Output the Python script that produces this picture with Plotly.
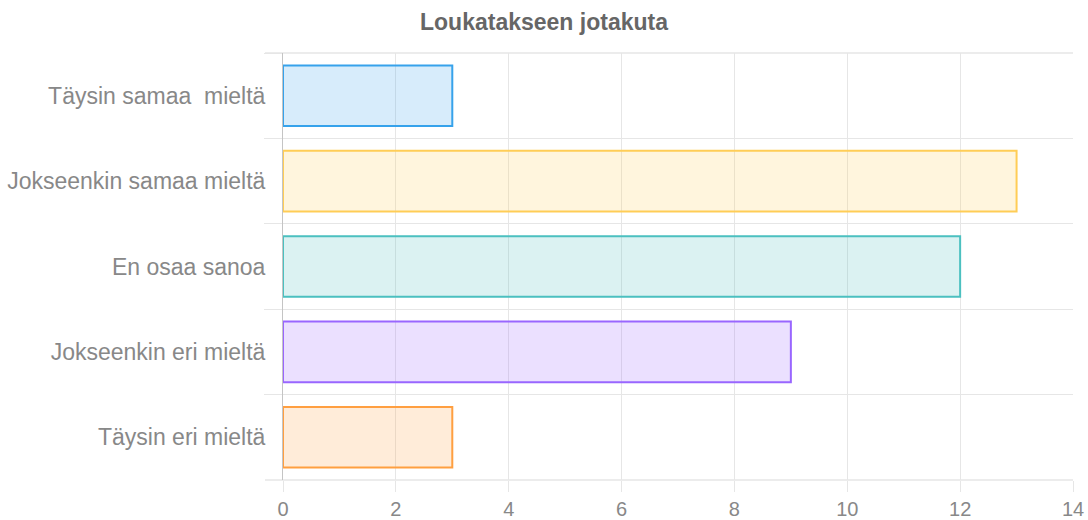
import plotly.graph_objects as go

categories = ["Täysin samaa  mieltä", "Jokseenkin samaa mieltä", "En osaa sanoa",
              "Jokseenkin eri mieltä", "Täysin eri mieltä"]
values = [3, 13, 12, 9, 3]
border_colors = ["rgb(54,162,235)", "rgb(255,205,86)", "rgb(75,192,192)",
                 "rgb(153,102,255)", "rgb(255,159,64)"]
fill_colors = ["rgba(54,162,235,0.2)", "rgba(255,205,86,0.2)", "rgba(75,192,192,0.2)",
               "rgba(153,102,255,0.2)", "rgba(255,159,64,0.2)"]
x_ticks = [0, 2, 4, 6, 8, 10, 12, 14]
title = "Loukatakseen jotakuta"

grid = "#e6e6e6"
text_col = "#888"

fig = go.Figure(go.Bar(
    x=values, y=categories, orientation="h", width=0.71,
    marker=dict(color=fill_colors, line=dict(color=border_colors, width=2)),
    hoverinfo="x+y",
))

plot_h = 520 - 53 - 40
plot_w = 1088 - 283 - 15

fig.update_layout(
    width=1088, height=520,
    margin=dict(l=283, r=15, t=53, b=40, autoexpand=False),
    paper_bgcolor="white", plot_bgcolor="white",
    font=dict(family="Liberation Sans, Arial, sans-serif", color=text_col, size=21),
    showlegend=False,
    annotations=[dict(text="<b>" + title + "</b>",
                      x=(544 - 283) / plot_w, xref="paper",
                      y=1 + (53 - 22) / plot_h, yref="paper",
                      showarrow=False, xanchor="center", yanchor="middle",
                      font=dict(size=23, color="#666"))],
)

ext = -18 / plot_w
fig.add_shape(type="line", xref="paper", yref="paper", x0=ext, x1=1, y0=1, y1=1,
              line=dict(color="#d9d9d9", width=1), layer="below")
fig.add_shape(type="line", xref="paper", yref="paper", x0=ext, x1=1, y0=0, y1=0,
              line=dict(color="#d9d9d9", width=1), layer="below")

fig.update_xaxes(
    range=[0, 14], tickvals=x_ticks, showgrid=True, gridcolor=grid,
    gridwidth=1, zeroline=False, ticks="outside", ticklen=11,
    tickcolor=grid, showline=False, automargin=False,
    tickfont=dict(size=20, color=text_col), fixedrange=True,
)
fig.update_yaxes(
    categoryorder="array", categoryarray=categories, autorange="reversed",
    tickson="boundaries", showgrid=True, gridcolor=grid, gridwidth=1,
    ticks="outside", ticklen=18, tickcolor=grid, zeroline=False,
    ticklabelstandoff=12,
    showline=True, linecolor="#c4c4c4", linewidth=1, automargin=False,
    tickfont=dict(size=23, color=text_col), fixedrange=True,
)

fig.write_html("out.html", post_script="document.body.style.margin='0';",
               config={"displayModeBar": False})
